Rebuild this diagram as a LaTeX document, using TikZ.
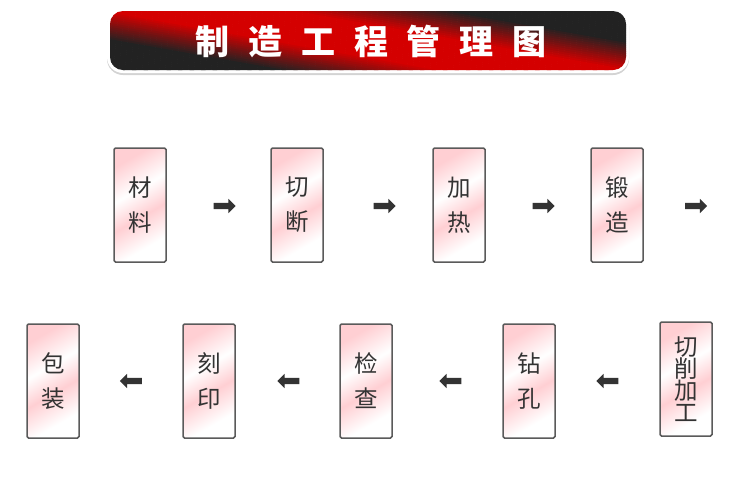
\documentclass[tikz,border=0pt]{standalone}
\usepackage{fontspec}
\newfontfamily\cjk{Noto Sans CJK SC}
\usetikzlibrary{shapes.arrows,shadows}
\definecolor{dk}{HTML}{222222}
\definecolor{rd}{HTML}{D40000}
\definecolor{pk}{HTML}{FFCFD3}
\definecolor{bd}{HTML}{5A5A5A}
\definecolor{ar}{HTML}{333333}
\pgfdeclarehorizontalshading{boxsh}{100bp}{color(0bp)=(pk); color(25bp)=(pk); color(42bp)=(white); color(56bp)=(pk); color(72bp)=(white); color(100bp)=(white)}
\tikzset{
  stepbox/.style={draw=bd, line width=1.5pt, rounded corners=1.5pt, minimum width=52pt, minimum height=114pt, inner sep=0pt,
    shading=boxsh, shading angle=-60, text=ar, align=center, font=\cjk\fontsize{23.5}{35}\selectfont},
  tallbox/.style={stepbox, font=\cjk\fontsize{23.5}{22}\selectfont},
  arw/.style={single arrow, fill=ar, draw=none, minimum height=22pt, inner sep=3pt, single arrow head extend=4pt, single arrow head indent=0pt},
  arwl/.style={arw, shape border rotate=180}
}
\begin{document}
\begin{tikzpicture}[x=1pt,y=-1pt]
\useasboundingbox (0,0) rectangle (735,480);
% banner
\path[fill=white, rounded corners=16pt, drop shadow={shadow xshift=0pt, shadow yshift=-2pt, opacity=0.35}] (107,8) rectangle (629,73);
\begin{scope}
\clip[rounded corners=13pt] (110,11) rectangle (626,70);
\begin{scope}[shift={(368,40)}, rotate=-10]
\foreach \s in {-150,-148,...,150} {
  \pgfmathtruncatemacro\t{max(0,min(100,(abs(\s)-16)/28*100))}
  \fill[dk!\t!rd] (-420,\s) rectangle (420,\s+2.5);
}
\end{scope}
\end{scope}
\node[font=\cjk\bfseries\fontsize{34}{34}\selectfont, text=white, inner sep=0pt] (title) at (371,41) {制\hspace{18.7pt}造\hspace{18.7pt}工\hspace{18.7pt}程\hspace{18.7pt}管\hspace{18.7pt}理\hspace{18.7pt}图};
% row 1
\node[stepbox] (b1) at (140,205) {材\\料};
\node[stepbox] (b2) at (297,205) {切\\断};
\node[stepbox] (b3) at (459,205) {加\\热};
\node[stepbox] (b4) at (617,205) {锻\\造};
\node[arw] (a1) at (223,206) {};
\node[arw] (a2) at (383,206) {};
\node[arw] (a3) at (542,206) {};
\node[arw] (a4) at (694.5,206) {};
% row 2
\node[tallbox] (b5) at (686,379) {切\\削\\加\\工};
\node[stepbox] (b6) at (529,381) {钻\\孔};
\node[stepbox] (b7) at (366,381) {检\\查};
\node[stepbox] (b8) at (209,381) {刻\\印};
\node[stepbox] (b9) at (53,381) {包\\装};
\node[arwl] (a5) at (609,381) {};
\node[arwl] (a6) at (452,381) {};
\node[arwl] (a7) at (290,381) {};
\node[arwl] (a8) at (132.5,381) {};
\end{tikzpicture}
\end{document}
